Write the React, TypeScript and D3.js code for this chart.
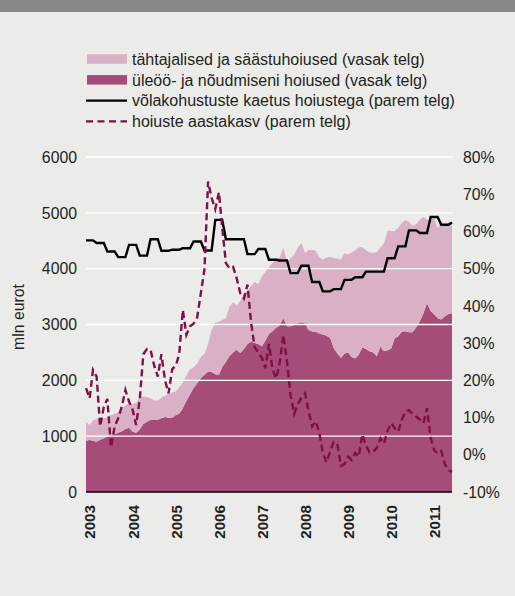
import React from 'react';
import * as d3 from 'd3';

// monthly, Jan 2003 .. Jul 2011, mln eurot (left axis)
const sightDeposits = [
  920, 930, 920, 902, 935, 963, 995, 1022, 1040, 1060,
  1090, 1130, 1150, 1080, 1060, 1120, 1220, 1260, 1290, 1290,
  1295, 1320, 1345, 1330, 1330, 1380, 1400, 1500, 1630, 1750,
  1860, 1950, 2040, 2100, 2160, 2150, 2110, 2100, 2240, 2330,
  2430, 2500, 2550, 2490, 2560, 2650, 2690, 2670, 2650, 2610,
  2710, 2830, 2880, 2940, 2980, 3110, 2970, 2970, 2990, 3020,
  3040, 3020, 2900, 2875, 2870, 2840, 2820, 2800, 2760, 2580,
  2480, 2400, 2480, 2500, 2420, 2390, 2460, 2590, 2560, 2520,
  2500, 2430, 2600, 2520, 2540, 2570, 2750, 2790, 2870, 2880,
  2860, 2860, 2950, 3060, 3200, 3380, 3240, 3180, 3110, 3090,
  3150, 3190, 3200,
];

const termDeposits = [
  340, 270, 360, 400, 385, 357, 345, 358, 360, 360,
  400, 420, 440, 490, 540, 570, 490, 440, 390, 350,
  345, 370, 385, 420, 450, 420, 470, 460, 460, 450,
  370, 350, 380, 370, 490, 750, 920, 950, 840, 780,
  890, 900, 790, 930, 990, 950, 990, 1100, 1070, 1250,
  1230, 1200, 1220, 1240, 1220, 1260, 1160, 1210, 1260, 1360,
  1420, 1260, 1430, 1465, 1450, 1370, 1340, 1400, 1450, 1610,
  1700, 1760, 1800, 1750, 1870, 1940, 1920, 1800, 1770, 1770,
  1780, 1870, 1780, 1930, 2140, 2110, 1920, 1940, 1950, 1990,
  1980, 1910, 1850, 1810, 1730, 1490, 1640, 1720, 1610, 1760,
  1640, 1640, 1620,
];

// % (right axis)
const coverageRatio = [
  57.6, 57.6, 57.6, 56.9, 56.9, 56.9, 54.6, 54.6, 54.6, 53.1,
  53.1, 53.1, 56.4, 56.4, 56.4, 53.5, 53.5, 53.5, 57.9, 57.9,
  57.9, 54.8, 54.8, 54.8, 55.1, 55.1, 55.1, 55.5, 55.5, 55.5,
  57.3, 57.3, 57.3, 54.9, 54.9, 54.9, 63.1, 63.1, 63.1, 57.9,
  57.9, 57.9, 57.9, 57.9, 57.9, 53.9, 53.9, 53.9, 55.3, 55.3,
  55.3, 52.4, 52.4, 52.4, 52.2, 52.2, 52.2, 48.8, 48.8, 48.8,
  50.8, 50.8, 50.8, 46.4, 46.4, 46.4, 43.9, 43.9, 43.9, 44.5,
  44.5, 44.5, 47.0, 47.0, 47.0, 47.7, 47.7, 47.7, 49.2, 49.2,
  49.2, 49.2, 49.2, 49.2, 52.8, 52.8, 52.8, 56.0, 56.0, 56.0,
  60.3, 60.3, 60.3, 59.6, 59.6, 59.6, 63.9, 63.9, 63.9, 61.8,
  61.8, 61.8, 62.4,
];

const depositGrowth = [
  17.9, 15.2, 22.8, 21.0, 7.6, 12.9, 15.0, 2.0, 7.6, 9.8,
  13.0, 17.4, 14.3, 12.0, 8.0, 15.0, 27.0, 28.4, 28.2, 24.0,
  21.0, 27.0, 20.0, 16.5, 23.0, 24.0, 27.0, 38.9, 32.2, 34.5,
  35.2, 37.0, 43.5, 49.7, 73.4, 69.0, 66.0, 70.5, 61.0, 51.5,
  50.1, 50.5, 47.5, 43.4, 42.0, 45.7, 35.4, 28.8, 27.6, 26.0,
  23.3, 29.8, 23.0, 20.5, 24.5, 32.2, 25.0, 16.0, 11.0, 13.5,
  15.4, 16.5, 12.0, 7.6, 9.0, 6.0, 0.5, -2.0, 1.0, 3.4,
  3.0, -3.0, -2.5, -0.5, -1.4, 0.5, -0.5, 5.5, 2.5, 0.6,
  0.8, 1.8, 4.4, 3.0, 6.5, 8.5, 7.2, 6.2, 9.4, 11.5,
  12.0, 11.0, 10.2, 9.5, 8.5, 12.5, 4.5, 1.2, 0.3, 1.0,
  -2.5, -4.1, -4.6,
];

const years = ['2003', '2004', '2005', '2006', '2007', '2008', '2009', '2010', '2011'];
const leftTicks = [0, 1000, 2000, 3000, 4000, 5000, 6000];
const rightTicks = [-10, 0, 10, 20, 30, 40, 50, 60, 70, 80];

const legendItems = [
  { label: 'tähtajalised ja säästuhoiused (vasak telg)', kind: 'rect', color: '#d9b0c5' },
  { label: 'üleöö- ja nõudmiseni hoiused (vasak telg)', kind: 'rect', color: '#a54c78' },
  { label: 'võlakohustuste kaetus hoiustega (parem telg)', kind: 'line', color: '#000000' },
  { label: 'hoiuste aastakasv (parem telg)', kind: 'dash', color: '#800f48' },
];

const FONT = '"Liberation Sans", Arial, Helvetica, sans-serif';
const TEXT = '#231f20';

export default function App() {
  const W = 515;
  const H = 596;
  const left = 86;
  const right = 452;
  const top = 157;
  const bottom = 492;

  const months = sightDeposits.map((_, i) => new Date(2003, i, 1));
  const x = d3.scaleTime().domain([months[0], months[months.length - 1]]).range([left, right]);
  const yL = d3.scaleLinear().domain([0, 6000]).range([bottom, top]);
  const yR = d3.scaleLinear().domain([-10, 80]).range([bottom, top]);

  const table = months.map((d, i) => ({ date: d, sight: sightDeposits[i], term: termDeposits[i] }));
  const stacked = d3.stack<any>().keys(['sight', 'term'])(table);
  const area = d3.area<any>()
    .x((d) => x(d.data.date))
    .y0((d) => yL(d[0]))
    .y1((d) => yL(d[1]));

  const lineR = d3.line<number>()
    .x((_, i) => x(months[i]))
    .y((d) => yR(d));

  const areaColors = ['#a54c78', '#d9b0c5'];

  return (
    <svg width={W} height={H} style={{ position: 'absolute', left: 0, top: 0, display: 'block' }}
      fontFamily={FONT}>
      <rect x={0} y={0} width={W} height={H} fill="#ebecea" />
      <rect x={0} y={0} width={W} height={12} fill="#87888a" />

      {/* legend */}
      {legendItems.map((item, i) => {
        const cy = 59 + i * 20.8;
        return (
          <g key={item.label}>
            {item.kind === 'rect' && (
              <rect x={87} y={cy - 4.7} width={40} height={9.5} fill={item.color} />
            )}
            {item.kind === 'line' && (
              <line x1={86} x2={127} y1={cy} y2={cy} stroke={item.color} strokeWidth={2.2} />
            )}
            {item.kind === 'dash' && (
              <line x1={86} x2={127} y1={cy} y2={cy} stroke={item.color} strokeWidth={2.4}
                strokeDasharray="7,4.5" />
            )}
            <text x={132} y={cy} dy="0.36em" fontSize={16} fill={TEXT}>{item.label}</text>
          </g>
        );
      })}

      {/* stacked areas */}
      {stacked.map((s, i) => (
        <path key={s.key} d={area(s) || ''} fill={areaColors[i]} />
      ))}

      {/* gridlines */}
      {leftTicks.filter((t) => t > 0).map((t) => (
        <line key={t} x1={left} x2={right + 1} y1={yL(t)} y2={yL(t)} stroke="#ffffff" strokeWidth={1.3} />
      ))}

      {/* lines */}
      <path d={lineR(coverageRatio) || ''} fill="none" stroke="#000" strokeWidth={2.4} strokeLinejoin="miter" />
      <path d={lineR(depositGrowth) || ''} fill="none" stroke="#800f48" strokeWidth={2.4}
        strokeDasharray="7,4" />

      {/* bottom axis */}
      <line x1={left} x2={right} y1={bottom} y2={bottom} stroke="#000" strokeWidth={1.5} />

      {/* left ticks */}
      {leftTicks.map((t) => (
        <text key={t} x={77} y={yL(t)} dy="0.36em" textAnchor="end" fontSize={15.8} fill={TEXT}>{t}</text>
      ))}
      <text transform="translate(18,317) rotate(-90)" textAnchor="middle" dy="0.36em" fontSize={15.8} fill={TEXT}>
        mln eurot
      </text>

      {/* right ticks */}
      {rightTicks.map((t) => (
        <text key={t} x={463} y={yR(t)} dy="0.36em" textAnchor="start" fontSize={15.8} fill={TEXT}>{t}%</text>
      ))}

      {/* year labels */}
      {years.map((yr) => {
        const xp = x(new Date(+yr, 0, 1)) + 4;
        return (
          <text key={yr} transform={`translate(${xp},505) rotate(-90)`} textAnchor="end" dy="0.36em"
            fontSize={15.2} fontWeight="bold" fill={TEXT}>{yr}</text>
        );
      })}
    </svg>
  );
}
